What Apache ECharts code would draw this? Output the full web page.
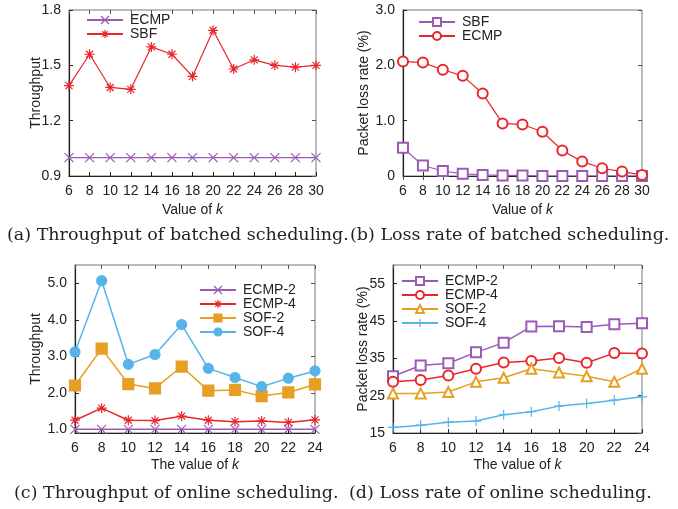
<!DOCTYPE html>
<html>
<head>
<meta charset="utf-8">
<script src="https://cdn.jsdelivr.net/npm/echarts@6/dist/echarts.min.js"></script>
<style>
  html, body { margin: 0; padding: 0; background: #fff; }
  #chart { width: 678px; height: 509px; }
</style>
</head>
<body>
<div id="chart"></div>
<script>
  // (a) throughput, batched
  const kBatch = [6, 8, 10, 12, 14, 16, 18, 20, 22, 24, 26, 28, 30]
  const aEcmp = [1.0, 1.0, 1.0, 1.0, 1.0, 1.0, 1.0, 1.0, 1.0, 1.0, 1.0, 1.0, 1.0]
  const aSbf = [1.39, 1.56, 1.38, 1.37, 1.60, 1.56, 1.44, 1.69, 1.48, 1.53, 1.50, 1.49, 1.50]
  // (b) loss rate, batched
  const bSbf = [0.51, 0.19, 0.09, 0.04, 0.02, 0.01, 0.01, 0.0, 0.0, 0.0, 0.0, 0.0, 0.0]
  const bEcmp = [2.07, 2.05, 1.92, 1.81, 1.49, 0.95, 0.93, 0.80, 0.46, 0.26, 0.14, 0.08, 0.02]
  // (c) throughput, online
  const kOnline = [6, 8, 10, 12, 14, 16, 18, 20, 22, 24]
  const cEcmp2 = [1.0, 1.0, 1.0, 1.0, 1.0, 1.0, 1.0, 1.0, 1.0, 1.0]
  const cEcmp4 = [1.25, 1.58, 1.25, 1.24, 1.36, 1.25, 1.21, 1.23, 1.19, 1.26]
  const cSof2 = [2.20, 3.21, 2.24, 2.12, 2.72, 2.06, 2.08, 1.91, 2.01, 2.23]
  const cSof4 = [3.12, 5.07, 2.78, 3.05, 3.87, 2.67, 2.42, 2.17, 2.40, 2.60]
  // (d) loss rate, online
  const dEcmp2 = [30.2, 33.1, 33.7, 36.6, 39.2, 43.5, 43.6, 43.4, 44.1, 44.4]
  const dEcmp4 = [28.7, 29.2, 30.4, 32.2, 33.9, 34.3, 35.1, 33.8, 36.4, 36.3]
  const dSof2 = [25.6, 25.6, 26.0, 28.7, 29.8, 32.2, 31.2, 30.2, 28.7, 32.2]
  const dSof4 = [16.5, 17.1, 17.9, 18.2, 19.9, 20.7, 22.2, 22.9, 23.8, 24.7]

  const purple = '#9b5bb5'
  const red = '#e8262b'
  const orange = '#e69f22'
  const blue = '#56b4e9'
  const ink = '#222'
  const font = 'Liberation Sans'

  const crossPath = 'path://M0,0L10,10M10,0L0,10'
  const starPath = 'path://M5,0L5,10M0,5L10,5M1.5,1.5L8.5,8.5M8.5,1.5L1.5,8.5'
  const plusPath = 'path://M5,0L5,10M0,5L10,5'

  const grids = [
    {left: 69, top: 10, width: 247, height: 166},
    {left: 403, top: 10, width: 239, height: 166},
    {left: 75, top: 265, width: 240, height: 168},
    {left: 393, top: 265, width: 249, height: 168}
  ]

  const pair = (xs, ys) => xs.map((x, i) => [x, ys[i]])

  function xMain(i, max, title, gap) {
    return {
      type: 'value', gridIndex: i, min: 6, max: max, interval: 2,
      axisLine: {lineStyle: {color: ink, width: 1.2}},
      axisTick: {inside: true, length: 4, lineStyle: {color: ink}},
      axisLabel: {color: ink, fontFamily: font, fontSize: 14, margin: 8},
      splitLine: {show: false},
      name: title + ' {i|k}', nameLocation: 'middle', nameGap: gap,
      nameTextStyle: {color: ink, fontFamily: font, fontSize: 14,
        rich: {i: {fontStyle: 'italic', fontFamily: font, fontSize: 14, color: ink}}}
    }
  }
  function xMirror(i, max) {
    return {
      type: 'value', gridIndex: i, position: 'top', min: 6, max: max, interval: 2,
      axisLine: {show: false},
      axisTick: {inside: true, length: 4, lineStyle: {color: '#555'}},
      axisLabel: {show: false}, splitLine: {show: false}
    }
  }
  function yMain(i, opt, title, gap) {
    return Object.assign({
      type: 'value', gridIndex: i,
      axisLine: {show: true, lineStyle: {color: ink, width: 1.2}},
      axisTick: {show: true, inside: true, length: 4, lineStyle: {color: ink}},
      axisLabel: {color: ink, fontFamily: font, fontSize: 14, margin: 8},
      splitLine: {show: false},
      name: title, nameLocation: 'middle', nameGap: gap, nameMoveOverlap: false,
      nameTextStyle: {color: ink, fontFamily: font, fontSize: 14}
    }, opt)
  }
  function yMirror(i, opt) {
    return Object.assign({
      type: 'value', gridIndex: i, position: 'right',
      axisLine: {show: false},
      axisTick: {show: true, inside: true, length: 4, lineStyle: {color: '#555'}},
      axisLabel: {show: false}, splitLine: {show: false}
    }, opt)
  }

  function line(name, idx, data, color, symbol, size, width) {
    return {
      name: name, type: 'line', xAxisIndex: idx, yAxisIndex: idx, data: data,
      symbol: symbol, symbolSize: size, showSymbol: true,
      lineStyle: {color: color, width: width || 1.2},
      itemStyle: {color: color, borderColor: color, borderWidth: 1.2},
      emphasis: {disabled: true}, animation: false, z: 3
    }
  }
  function legend(i, names, left, top) {
    return {
      data: names, orient: 'vertical', left: left, top: top, padding: 0,
      itemWidth: 36, itemHeight: 10, itemGap: 0,
      formatter: n => n.split('#')[0],
      itemStyle: {borderWidth: 1.2},
      textStyle: {color: ink, fontFamily: font, fontSize: 14, lineHeight: 13, padding: [0, 0, 0, 2]}
    }
  }
  function caption(text, left, top) {
    return {
      text: text, left: left, top: top, padding: 0,
      textStyle: {fontFamily: 'DejaVu Serif', fontSize: 17.5, fontWeight: 'normal', color: ink}
    }
  }

  const yA = {min: 0.9, max: 1.8, interval: 0.3}
  const yB = {min: 0, max: 3, interval: 1}
  const yC = {min: 0.9, max: 5.5}
  const yD = {min: 15, max: 60}

  const chart = echarts.init(document.getElementById('chart'), null, {renderer: 'canvas'})
  chart.setOption({
    backgroundColor: '#fff',
    animation: false,
    title: [
      caption('(a) Throughput of batched scheduling.', 7, 226),
      caption('(b) Loss rate of batched scheduling.', 350, 226),
      caption('(c) Throughput of online scheduling.', 14, 484),
      caption('(d) Loss rate of online scheduling.', 349, 484)
    ],
    grid: grids.map(g => Object.assign({show: true, borderColor: '#777', borderWidth: 1}, g)),
    legend: [
      legend(0, ['ECMP#a', 'SBF#a'], 86, 13),
      legend(1, ['SBF#b', 'ECMP#b'], 418, 15),
      legend(2, ['ECMP-2#c', 'ECMP-4#c', 'SOF-2#c', 'SOF-4#c'], 199, 283),
      legend(3, ['ECMP-2#d', 'ECMP-4#d', 'SOF-2#d', 'SOF-4#d'], 401, 274)
    ],
    xAxis: [
      xMain(0, 30, 'Value of', 27),
      xMain(1, 30, 'Value of', 27),
      xMain(2, 24, 'The value of', 25),
      xMain(3, 24, 'The value of', 25),
      xMirror(0, 30), xMirror(1, 30), xMirror(2, 24), xMirror(3, 24)
    ],
    yAxis: [
      yMain(0, Object.assign({axisLabel: {color: ink, fontFamily: font, fontSize: 14, margin: 8,
        formatter: v => v.toFixed(1)}}, yA), 'Throughput', 26),
      yMain(1, Object.assign({axisLabel: {color: ink, fontFamily: font, fontSize: 14, margin: 8,
        formatter: v => v === 0 ? '0' : v.toFixed(1)}}, yB), 'Packet loss rate (%)', 32),
      yMain(2, Object.assign({
        axisLabel: {color: ink, fontFamily: font, fontSize: 14, margin: 8,
          customValues: [1, 2, 3, 4, 5], formatter: v => v.toFixed(1)},
        axisTick: {show: true, inside: true, length: 4, lineStyle: {color: ink}, customValues: [1, 2, 3, 4, 5]}
      }, yC), 'Throughput', 32),
      yMain(3, Object.assign({
        axisLabel: {color: ink, fontFamily: font, fontSize: 14, margin: 8,
          customValues: [15, 25, 35, 45, 55]},
        axisTick: {show: true, inside: true, length: 4, lineStyle: {color: ink}, customValues: [15, 25, 35, 45, 55]}
      }, yD), 'Packet loss rate (%)', 23),
      yMirror(0, yA), yMirror(1, yB),
      yMirror(2, Object.assign({axisTick: {show: true, inside: true, length: 4,
        lineStyle: {color: '#555'}, customValues: [1, 2, 3, 4, 5]}}, yC)),
      yMirror(3, Object.assign({axisTick: {show: true, inside: true, length: 4,
        lineStyle: {color: '#555'}, customValues: [15, 25, 35, 45, 55]}}, yD))
    ],
    series: [
      line('ECMP#a', 0, pair(kBatch, aEcmp), purple, crossPath, 9),
      line('SBF#a', 0, pair(kBatch, aSbf), red, starPath, 10),
      line('SBF#b', 1, pair(kBatch, bSbf), purple, 'emptyRect', 10),
      line('ECMP#b', 1, pair(kBatch, bEcmp), red, 'emptyCircle', 10),
      line('ECMP-2#c', 2, pair(kOnline, cEcmp2), purple, crossPath, 9, 1.5),
      line('ECMP-4#c', 2, pair(kOnline, cEcmp4), red, starPath, 10, 1.5),
      line('SOF-2#c', 2, pair(kOnline, cSof2), orange, 'rect', 11, 1.5),
      line('SOF-4#c', 2, pair(kOnline, cSof4), blue, 'circle', 10, 1.5),
      line('ECMP-2#d', 3, pair(kOnline, dEcmp2), purple, 'emptyRect', 10, 1.5),
      line('ECMP-4#d', 3, pair(kOnline, dEcmp4), red, 'emptyCircle', 10, 1.5),
      line('SOF-2#d', 3, pair(kOnline, dSof2), orange, 'emptyTriangle', 10, 1.5),
      line('SOF-4#d', 3, pair(kOnline, dSof4), blue, plusPath, 10, 1.5)
    ]
  })
</script>
</body>
</html>
